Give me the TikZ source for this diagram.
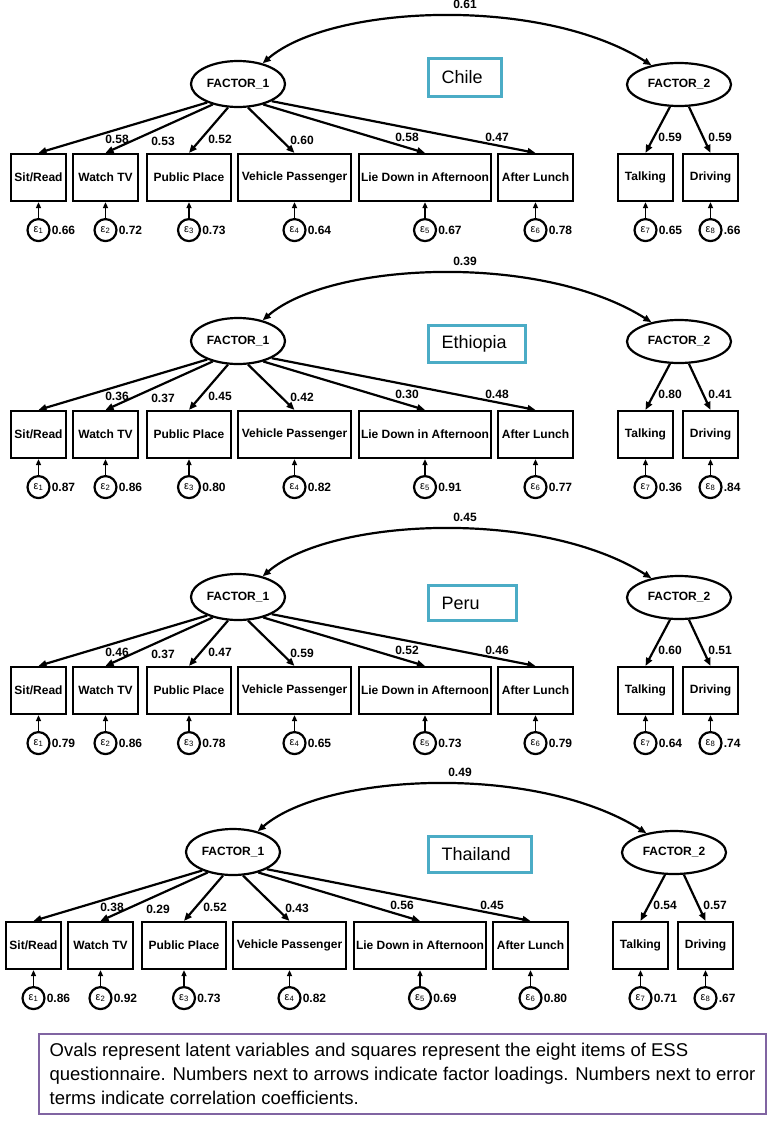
\documentclass[tikz,border=0pt]{standalone}
\usepackage{fontspec}
\setmainfont{Liberation Sans}
\usetikzlibrary{shapes.geometric,arrows.meta,calc}
\definecolor{cbox}{HTML}{4BACC6}
\definecolor{pbox}{HTML}{8064A2}
\tikzset{
 base/.style={font=\fontsize{12}{14}\selectfont\bfseries},
 obsbox/.style={draw, line width=2.2pt, minimum height=47pt, inner sep=0pt, base},
 latent/.style={draw, ellipse, line width=2.2pt, inner sep=0pt, base},
 errc/.style={draw, circle, line width=2.2pt, minimum size=22pt, inner sep=0pt, font=\fontsize{11}{12}\selectfont},
 num/.style={inner sep=0pt, base},
 load/.style={line width=2.2pt, -{Triangle[length=8pt,width=6.5pt]}},
 errarr/.style={line width=1.8pt, -{Triangle[length=6pt,width=5pt]}},
 covarr/.style={line width=2.2pt, {Triangle[length=8pt,width=6.5pt]}-{Triangle[length=8pt,width=6.5pt]}},
 country/.style={draw=cbox, line width=3pt, anchor=north west, inner xsep=13pt, inner ysep=0pt, align=left, font=\fontsize{18}{20}\selectfont},
 note/.style={draw=pbox, line width=2.8pt, align=left, inner sep=0pt, font=\fontsize{18.5}{24}\selectfont}
}
\begin{document}
\begin{tikzpicture}[x=1pt,y=-1pt]
\useasboundingbox (0,0) rectangle (773,1122);
\def\lanch{{211,219,247,293,321,333,248,294}}
\def\lxs{{117,163,220,302,407,497,670,720}}
\def\lys{{139,141,139,140,137,137,137,137}}
\foreach \pp/\dx/\dy/\cov/\cname/\cx/\cy/\cw/\ch/\lds/\errs in {
 a/0/0/0.61/Chile/427/57/73/38/{0.58,0.53,0.52,0.60,0.58,0.47,0.59,0.59}/{0.66,0.72,0.73,0.64,0.67,0.78,0.65,.66},
 b/0/257/0.39/Ethiopia/427/67/97/37/{0.36,0.37,0.45,0.42,0.30,0.48,0.80,0.41}/{0.87,0.86,0.80,0.82,0.91,0.77,0.36,.84},
 c/0/513/0.45/Peru/427/71/88/35/{0.46,0.37,0.47,0.59,0.52,0.46,0.60,0.51}/{0.79,0.86,0.78,0.65,0.73,0.79,0.64,.74},
 d/-5/768/0.49/Thailand/432/67/103/36/{0.38,0.29,0.52,0.43,0.56,0.45,0.54,0.57}/{0.86,0.92,0.73,0.82,0.69,0.80,0.71,.67}}{
 \begin{scope}[shift={(\dx,\dy)}]
  \node[latent, minimum width=94pt, minimum height=46pt] (F1\pp) at (238,84) {FACTOR\_1};
  \node[latent, minimum width=104pt, minimum height=43pt] (F2\pp) at (679,84.5) {FACTOR\_2};
  \pgfmathsetmacro\twid{\cw-26}
  \node[country, minimum width=\cw pt, minimum height=\ch pt, text width=\twid pt] (k\pp) at (\cx,\cy) {\cname};
  \foreach \idx/\xl/\xr/\txt in {1/11/66/{Sit/Read},2/73/138/Watch TV,3/147/231/Public Place,4/238/351/Vehicle Passenger,5/359/491/Lie Down in Afternoon,6/498/573/After Lunch,7/618/673/Talking,8/683/738/Driving}{
   \node[obsbox, minimum width={(\xr-\xl)*1pt}] (b\pp\idx) at ({(\xl+\xr)/2},177.5) {\txt};
  }
  \foreach \val [count=\idx] in \lds {
   \pgfmathtruncatemacro\anc{\lanch[\idx-1]}
   \pgfmathsetmacro\lxv{\lxs[\idx-1]}
   \pgfmathsetmacro\lyv{\lys[\idx-1]}
   \ifnum\idx<7 \def\fac{F1\pp}\else\def\fac{F2\pp}\fi
   \draw[load] (\fac.\anc) -- (b\pp\idx.north);
   \node[num] (l\pp\idx) at (\lxv,\lyv) {\val};
  }
  \foreach \val [count=\idx] in \errs {
   \node[errc] (e\pp\idx) at ($(b\pp\idx.south)+(0,28)$) {ε\textsubscript{\idx}};
   \draw[errarr] (e\pp\idx.north) -- (b\pp\idx.south);
   \node[num, anchor=west] (v\pp\idx) at ([xshift=1pt]e\pp\idx.east) {\val};
  }
  \draw[covarr] (F1\pp.40) .. controls (330,5) and (540,-5) .. (F2\pp.145);
  \node[num] (c\pp) at (465,4) {\cov};
 \end{scope}
}
\node[note, minimum width=727pt, minimum height=80pt] (notebox) at (402.5,1074) {Ovals represent latent variables and squares represent the eight items of ESS\\questionnaire. Numbers next to arrows indicate factor loadings. Numbers next to error\\terms indicate correlation coefficients.};
\end{tikzpicture}
\end{document}
